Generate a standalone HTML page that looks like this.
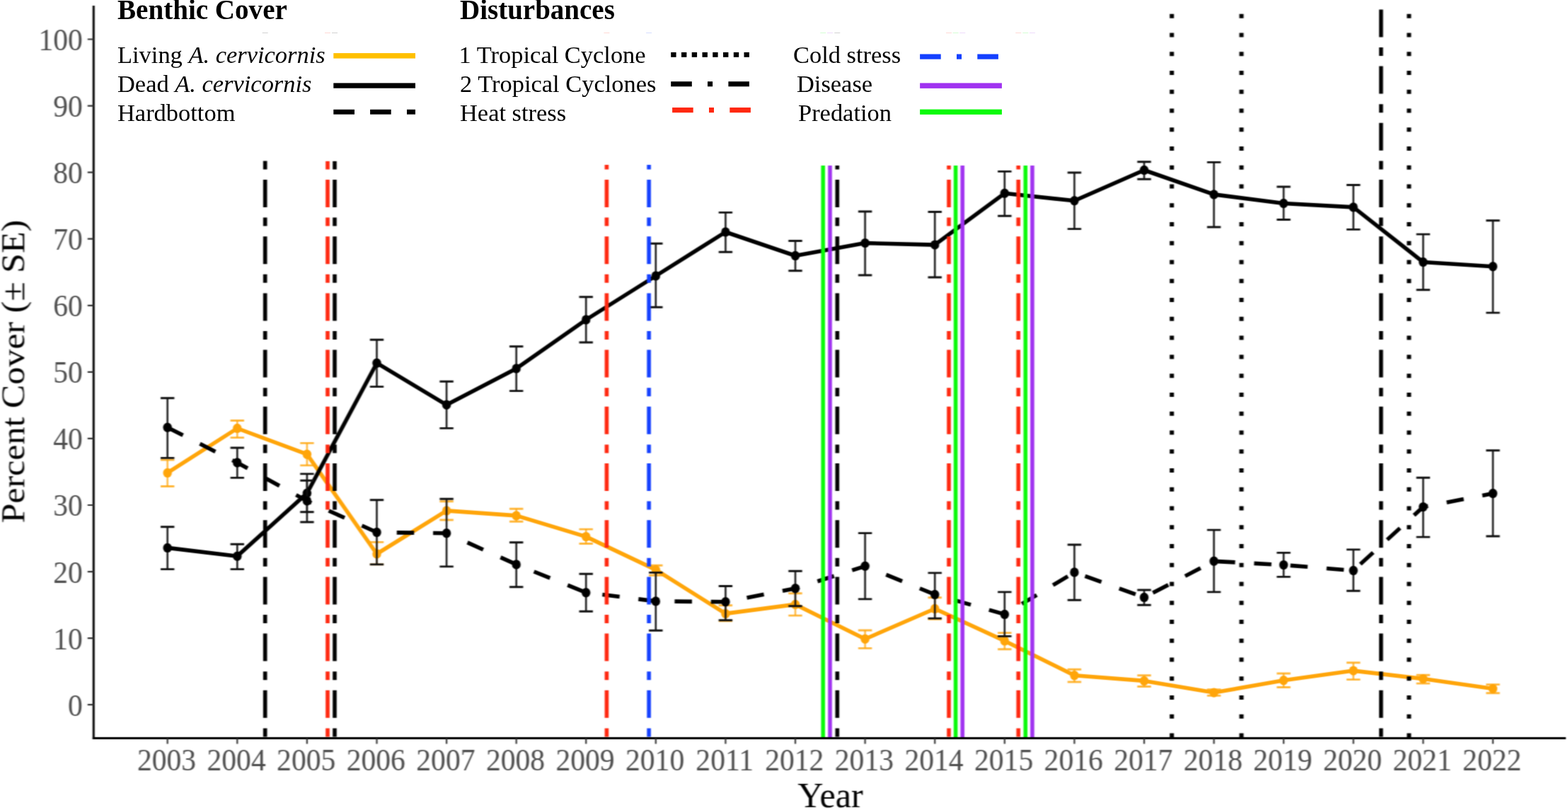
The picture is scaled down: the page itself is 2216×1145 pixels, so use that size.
<!DOCTYPE html>
<html><head><meta charset="utf-8"><title>Benthic cover and disturbances</title>
<style>
html,body{margin:0;padding:0;background:#fff;}
body{width:2216px;height:1145px;overflow:hidden;}
svg{display:block;font-family:"Liberation Serif","Times New Roman",serif;}
</style></head><body>
<svg width="2216" height="1145" viewBox="0 0 2216 1145">
<defs>
<clipPath id="c2278"><rect x="0" y="227.8" width="2216" height="900"/></clipPath>
<clipPath id="c2339"><rect x="0" y="233.9" width="2216" height="900"/></clipPath>
<filter id="blur" x="0" y="0" width="2216" height="1145" filterUnits="userSpaceOnUse" color-interpolation-filters="sRGB"><feConvolveMatrix order="5 1" kernelMatrix="0.0377 0.2399 0.4448 0.2399 0.0377" edgeMode="none" result="h"/><feConvolveMatrix in="h" order="1 5" kernelMatrix="0.0026 0.1655 0.6638 0.1655 0.0026" edgeMode="none"/></filter>
</defs>
<rect width="2216" height="1145" fill="#fff"/>
<g filter="url(#blur)">
<polyline points="236.7,668.4 335.3,605.5 433.9,642.2 532.5,783.0 631.1,721.9 729.7,728.9 828.2,758.6 926.8,805.4 1025.4,867.4 1124.0,854.4 1222.6,903.3 1321.2,860.5 1419.8,905.9 1518.4,954.7 1617.0,962.4 1715.6,979.1 1814.1,961.7 1912.7,948.1 2011.3,959.6 2109.9,973.6" fill="none" stroke="#FFA50A" stroke-width="5.6" stroke-linejoin="round"/>
<g fill="none" stroke="#FFA50A" stroke-opacity="0.8"><path d="M236.7 650.0V687.5M335.3 594.5V618.6M433.9 626.4V657.9M532.5 766.4V797.9M631.1 708.8V735.0M729.7 719.3V737.3M828.2 748.1V768.5M926.8 799.3V813.3M1025.4 855.7V877.9M1124.0 838.7V870.1M1222.6 891.0V916.4M1321.2 844.8V875.3M1419.8 894.6V917.8M1518.4 946.2V964.0M1617.0 954.7V970.5M1715.6 974.7V983.4M1814.1 952.0V971.5M1912.7 936.8V960.6M2011.3 954.2V966.1M2109.9 967.6V979.7" stroke-width="2.5"/><path d="M227.0 650.0H246.4M227.0 687.5H246.4M325.6 594.5H345.0M325.6 618.6H345.0M424.2 626.4H443.6M424.2 657.9H443.6M522.8 766.4H542.2M522.8 797.9H542.2M621.4 708.8H640.8M621.4 735.0H640.8M720.0 719.3H739.4M720.0 737.3H739.4M818.5 748.1H837.9M818.5 768.5H837.9M917.1 799.3H936.5M917.1 813.3H936.5M1015.7 855.7H1035.1M1015.7 877.9H1035.1M1114.3 838.7H1133.7M1114.3 870.1H1133.7M1212.9 891.0H1232.3M1212.9 916.4H1232.3M1311.5 844.8H1330.9M1311.5 875.3H1330.9M1410.1 894.6H1429.5M1410.1 917.8H1429.5M1508.7 946.2H1528.1M1508.7 964.0H1528.1M1607.3 954.7H1626.7M1607.3 970.5H1626.7M1705.9 974.7H1725.3M1705.9 983.4H1725.3M1804.4 952.0H1823.8M1804.4 971.5H1823.8M1903.0 936.8H1922.4M1903.0 960.6H1922.4M2001.6 954.2H2021.0M2001.6 966.1H2021.0M2100.2 967.6H2119.6M2100.2 979.7H2119.6" stroke-width="2.9"/></g>
<ellipse cx="236.7" cy="668.4" rx="6.2" ry="6.7" fill="#FFA50A"/>
<ellipse cx="335.3" cy="605.5" rx="6.2" ry="6.7" fill="#FFA50A"/>
<ellipse cx="433.9" cy="642.2" rx="6.2" ry="6.7" fill="#FFA50A"/>
<ellipse cx="532.5" cy="783.0" rx="6.2" ry="6.7" fill="#FFA50A"/>
<ellipse cx="631.1" cy="721.9" rx="6.2" ry="6.7" fill="#FFA50A"/>
<ellipse cx="729.7" cy="728.9" rx="6.2" ry="6.7" fill="#FFA50A"/>
<ellipse cx="828.2" cy="758.6" rx="6.2" ry="6.7" fill="#FFA50A"/>
<ellipse cx="926.8" cy="805.4" rx="6.2" ry="6.7" fill="#FFA50A"/>
<ellipse cx="1025.4" cy="867.4" rx="6.2" ry="6.7" fill="#FFA50A"/>
<ellipse cx="1124.0" cy="854.4" rx="6.2" ry="6.7" fill="#FFA50A"/>
<ellipse cx="1222.6" cy="903.3" rx="6.2" ry="6.7" fill="#FFA50A"/>
<ellipse cx="1321.2" cy="860.5" rx="6.2" ry="6.7" fill="#FFA50A"/>
<ellipse cx="1419.8" cy="905.9" rx="6.2" ry="6.7" fill="#FFA50A"/>
<ellipse cx="1518.4" cy="954.7" rx="6.2" ry="6.7" fill="#FFA50A"/>
<ellipse cx="1617.0" cy="962.4" rx="6.2" ry="6.7" fill="#FFA50A"/>
<ellipse cx="1715.6" cy="979.1" rx="6.2" ry="6.7" fill="#FFA50A"/>
<ellipse cx="1814.1" cy="961.7" rx="6.2" ry="6.7" fill="#FFA50A"/>
<ellipse cx="1912.7" cy="948.1" rx="6.2" ry="6.7" fill="#FFA50A"/>
<ellipse cx="2011.3" cy="959.6" rx="6.2" ry="6.7" fill="#FFA50A"/>
<ellipse cx="2109.9" cy="973.6" rx="6.2" ry="6.7" fill="#FFA50A"/>
<polyline points="236.7,774.4 335.3,786.2 433.9,697.2 532.5,513.2 631.1,572.3 729.7,520.9 828.2,452.0 926.8,390.0 1025.4,328.0 1124.0,361.5 1222.6,343.6 1321.2,346.1 1419.8,273.3 1518.4,283.8 1617.0,240.5 1715.6,274.9 1814.1,287.5 1912.7,292.9 2011.3,370.5 2109.9,376.8" fill="none" stroke="#000" stroke-width="5.6" stroke-linejoin="round"/>
<g fill="none" stroke="#111"><path d="M236.7 744.8V804.6M335.3 769.2V804.6M433.9 669.9V723.8M532.5 480.2V546.6M631.1 539.2V605.4M729.7 489.7V552.6M828.2 419.7V484.0M926.8 344.3V434.2M1025.4 300.4V356.3M1124.0 340.5V382.8M1222.6 299.0V389.0M1321.2 299.5V392.0M1419.8 242.4V305.2M1518.4 244.0V323.6M1617.0 228.8V253.3M1715.6 229.4V321.0M1814.1 264.0V310.5M1912.7 261.5V324.4M2011.3 331.1V409.7M2109.9 311.8V442.1" stroke-width="2.5"/><path d="M227.0 744.8H246.4M227.0 804.6H246.4M325.6 769.2H345.0M325.6 804.6H345.0M424.2 669.9H443.6M424.2 723.8H443.6M522.8 480.2H542.2M522.8 546.6H542.2M621.4 539.2H640.8M621.4 605.4H640.8M720.0 489.7H739.4M720.0 552.6H739.4M818.5 419.7H837.9M818.5 484.0H837.9M917.1 344.3H936.5M917.1 434.2H936.5M1015.7 300.4H1035.1M1015.7 356.3H1035.1M1114.3 340.5H1133.7M1114.3 382.8H1133.7M1212.9 299.0H1232.3M1212.9 389.0H1232.3M1311.5 299.5H1330.9M1311.5 392.0H1330.9M1410.1 242.4H1429.5M1410.1 305.2H1429.5M1508.7 244.0H1528.1M1508.7 323.6H1528.1M1607.3 228.8H1626.7M1607.3 253.3H1626.7M1705.9 229.4H1725.3M1705.9 321.0H1725.3M1804.4 264.0H1823.8M1804.4 310.5H1823.8M1903.0 261.5H1922.4M1903.0 324.4H1922.4M2001.6 331.1H2021.0M2001.6 409.7H2021.0M2100.2 311.8H2119.6M2100.2 442.1H2119.6" stroke-width="2.9"/></g>
<ellipse cx="236.7" cy="774.4" rx="6.2" ry="6.7" fill="#000"/>
<ellipse cx="335.3" cy="786.2" rx="6.2" ry="6.7" fill="#000"/>
<ellipse cx="433.9" cy="697.2" rx="6.2" ry="6.7" fill="#000"/>
<ellipse cx="532.5" cy="513.2" rx="6.2" ry="6.7" fill="#000"/>
<ellipse cx="631.1" cy="572.3" rx="6.2" ry="6.7" fill="#000"/>
<ellipse cx="729.7" cy="520.9" rx="6.2" ry="6.7" fill="#000"/>
<ellipse cx="828.2" cy="452.0" rx="6.2" ry="6.7" fill="#000"/>
<ellipse cx="926.8" cy="390.0" rx="6.2" ry="6.7" fill="#000"/>
<ellipse cx="1025.4" cy="328.0" rx="6.2" ry="6.7" fill="#000"/>
<ellipse cx="1124.0" cy="361.5" rx="6.2" ry="6.7" fill="#000"/>
<ellipse cx="1222.6" cy="343.6" rx="6.2" ry="6.7" fill="#000"/>
<ellipse cx="1321.2" cy="346.1" rx="6.2" ry="6.7" fill="#000"/>
<ellipse cx="1419.8" cy="273.3" rx="6.2" ry="6.7" fill="#000"/>
<ellipse cx="1518.4" cy="283.8" rx="6.2" ry="6.7" fill="#000"/>
<ellipse cx="1617.0" cy="240.5" rx="6.2" ry="6.7" fill="#000"/>
<ellipse cx="1715.6" cy="274.9" rx="6.2" ry="6.7" fill="#000"/>
<ellipse cx="1814.1" cy="287.5" rx="6.2" ry="6.7" fill="#000"/>
<ellipse cx="1912.7" cy="292.9" rx="6.2" ry="6.7" fill="#000"/>
<ellipse cx="2011.3" cy="370.5" rx="6.2" ry="6.7" fill="#000"/>
<ellipse cx="2109.9" cy="376.8" rx="6.2" ry="6.7" fill="#000"/>
<polyline points="236.7,604.2 335.3,654.0 433.9,708.1 532.5,752.5 631.1,753.7 729.7,797.9 828.2,837.7 926.8,849.9 1025.4,850.8 1124.0,831.7 1222.6,800.3 1321.2,840.4 1419.8,868.4 1518.4,809.0 1617.0,844.4 1715.6,793.3 1814.1,798.6 1912.7,806.5 2011.3,716.6 2109.9,697.5" fill="none" stroke="#000" stroke-width="5.6" stroke-linejoin="round" stroke-dasharray="24.5 26.83"/>
<g fill="none" stroke="#111"><path d="M236.7 562.8V647.4M335.3 633.0V675.4M433.9 679.3V738.0M532.5 706.7V797.9M631.1 705.3V800.9M729.7 766.8V829.8M828.2 811.3V864.2M926.8 809.4V891.3M1025.4 828.5V876.7M1124.0 807.2V856.7M1222.6 753.6V846.9M1321.2 809.9V874.1M1419.8 836.9V899.4M1518.4 770.0V848.3M1617.0 834.0V855.3M1715.6 749.1V836.9M1814.1 781.4V815.4M1912.7 776.9V835.3M2011.3 675.2V759.1M2109.9 636.7V758.0" stroke-width="2.5"/><path d="M227.0 562.8H246.4M227.0 647.4H246.4M325.6 633.0H345.0M325.6 675.4H345.0M424.2 679.3H443.6M424.2 738.0H443.6M522.8 706.7H542.2M522.8 797.9H542.2M621.4 705.3H640.8M621.4 800.9H640.8M720.0 766.8H739.4M720.0 829.8H739.4M818.5 811.3H837.9M818.5 864.2H837.9M917.1 809.4H936.5M917.1 891.3H936.5M1015.7 828.5H1035.1M1015.7 876.7H1035.1M1114.3 807.2H1133.7M1114.3 856.7H1133.7M1212.9 753.6H1232.3M1212.9 846.9H1232.3M1311.5 809.9H1330.9M1311.5 874.1H1330.9M1410.1 836.9H1429.5M1410.1 899.4H1429.5M1508.7 770.0H1528.1M1508.7 848.3H1528.1M1607.3 834.0H1626.7M1607.3 855.3H1626.7M1705.9 749.1H1725.3M1705.9 836.9H1725.3M1804.4 781.4H1823.8M1804.4 815.4H1823.8M1903.0 776.9H1922.4M1903.0 835.3H1922.4M2001.6 675.2H2021.0M2001.6 759.1H2021.0M2100.2 636.7H2119.6M2100.2 758.0H2119.6" stroke-width="2.9"/></g>
<ellipse cx="236.7" cy="604.2" rx="6.2" ry="6.7" fill="#000"/>
<ellipse cx="335.3" cy="654.0" rx="6.2" ry="6.7" fill="#000"/>
<ellipse cx="433.9" cy="708.1" rx="6.2" ry="6.7" fill="#000"/>
<ellipse cx="532.5" cy="752.5" rx="6.2" ry="6.7" fill="#000"/>
<ellipse cx="631.1" cy="753.7" rx="6.2" ry="6.7" fill="#000"/>
<ellipse cx="729.7" cy="797.9" rx="6.2" ry="6.7" fill="#000"/>
<ellipse cx="828.2" cy="837.7" rx="6.2" ry="6.7" fill="#000"/>
<ellipse cx="926.8" cy="849.9" rx="6.2" ry="6.7" fill="#000"/>
<ellipse cx="1025.4" cy="850.8" rx="6.2" ry="6.7" fill="#000"/>
<ellipse cx="1124.0" cy="831.7" rx="6.2" ry="6.7" fill="#000"/>
<ellipse cx="1222.6" cy="800.3" rx="6.2" ry="6.7" fill="#000"/>
<ellipse cx="1321.2" cy="840.4" rx="6.2" ry="6.7" fill="#000"/>
<ellipse cx="1419.8" cy="868.4" rx="6.2" ry="6.7" fill="#000"/>
<ellipse cx="1518.4" cy="809.0" rx="6.2" ry="6.7" fill="#000"/>
<ellipse cx="1617.0" cy="844.4" rx="6.2" ry="6.7" fill="#000"/>
<ellipse cx="1715.6" cy="793.3" rx="6.2" ry="6.7" fill="#000"/>
<ellipse cx="1814.1" cy="798.6" rx="6.2" ry="6.7" fill="#000"/>
<ellipse cx="1912.7" cy="806.5" rx="6.2" ry="6.7" fill="#000"/>
<ellipse cx="2011.3" cy="716.6" rx="6.2" ry="6.7" fill="#000"/>
<ellipse cx="2109.9" cy="697.5" rx="6.2" ry="6.7" fill="#000"/>
<g clip-path="url(#c2278)"><line x1="374.7" y1="13.4" x2="374.7" y2="1043.4" stroke="#000" stroke-width="5.6" stroke-dasharray="39 14.6 12 14.6"/></g>
<g clip-path="url(#c2278)"><line x1="463.0" y1="13.4" x2="463.0" y2="1043.4" stroke="#FF2810" stroke-width="5.6" stroke-dasharray="39 14.6 12 14.6"/></g>
<g clip-path="url(#c2278)"><line x1="473.0" y1="13.4" x2="473.0" y2="1043.4" stroke="#000" stroke-width="5.6" stroke-dasharray="39 14.6 12 14.6"/></g>
<g clip-path="url(#c2339)"><line x1="857.4" y1="13.4" x2="857.4" y2="1043.4" stroke="#FF2810" stroke-width="5.6" stroke-dasharray="39 14.6 12 14.6"/></g>
<g clip-path="url(#c2339)"><line x1="917.1" y1="13.4" x2="917.1" y2="1043.4" stroke="#1440FF" stroke-width="5.6" stroke-dasharray="39 14.6 12 14.6"/></g>
<g clip-path="url(#c2339)"><line x1="1163.2" y1="233.9" x2="1163.2" y2="1043.4" stroke="#0AFA0A" stroke-width="5.6"/></g>
<g clip-path="url(#c2339)"><line x1="1173.0" y1="233.9" x2="1173.0" y2="1043.4" stroke="#A032F0" stroke-width="5.6"/></g>
<g clip-path="url(#c2339)"><line x1="1183.3" y1="13.4" x2="1183.3" y2="1043.4" stroke="#000" stroke-width="5.6" stroke-dasharray="39 14.6 12 14.6"/></g>
<g clip-path="url(#c2339)"><line x1="1341.0" y1="13.4" x2="1341.0" y2="1043.4" stroke="#FF2810" stroke-width="5.6" stroke-dasharray="39 14.6 12 14.6"/></g>
<g clip-path="url(#c2339)"><line x1="1350.6" y1="233.9" x2="1350.6" y2="1043.4" stroke="#0AFA0A" stroke-width="5.6"/></g>
<g clip-path="url(#c2339)"><line x1="1360.2" y1="233.9" x2="1360.2" y2="1043.4" stroke="#A032F0" stroke-width="5.6"/></g>
<g clip-path="url(#c2339)"><line x1="1439.2" y1="13.4" x2="1439.2" y2="1043.4" stroke="#FF2810" stroke-width="5.6" stroke-dasharray="39 14.6 12 14.6"/></g>
<g clip-path="url(#c2339)"><line x1="1449.3" y1="233.9" x2="1449.3" y2="1043.4" stroke="#0AFA0A" stroke-width="5.6"/></g>
<g clip-path="url(#c2339)"><line x1="1458.9" y1="233.9" x2="1458.9" y2="1043.4" stroke="#A032F0" stroke-width="5.6"/></g>
<line x1="1656.1" y1="19.7" x2="1656.1" y2="1043.4" stroke="#000" stroke-width="6" stroke-dasharray="6 20.76"/>
<line x1="1754.5" y1="19.7" x2="1754.5" y2="1043.4" stroke="#000" stroke-width="6" stroke-dasharray="6 20.76"/>
<line x1="1951.8" y1="13.4" x2="1951.8" y2="1043.4" stroke="#000" stroke-width="5.6" stroke-dasharray="39 14.6 12 14.6"/>
<line x1="1991.3" y1="19.7" x2="1991.3" y2="1043.4" stroke="#000" stroke-width="6" stroke-dasharray="6 20.76"/>
<line x1="132.3" y1="8.0" x2="132.3" y2="1044.9" stroke="#000" stroke-width="3"/>
<line x1="130.8" y1="1043.4" x2="2213" y2="1043.4" stroke="#000" stroke-width="3"/>
<path d="M123.8 996.2H132.3M123.8 902.1H132.3M123.8 808.1H132.3M123.8 714.0H132.3M123.8 619.9H132.3M123.8 525.9H132.3M123.8 431.8H132.3M123.8 337.7H132.3M123.8 243.6H132.3M123.8 149.6H132.3M123.8 55.5H132.3" stroke="#333" stroke-width="2.2"/>
<path d="M236.7 1043.4V1051.5M335.3 1043.4V1051.5M433.9 1043.4V1051.5M532.5 1043.4V1051.5M631.1 1043.4V1051.5M729.7 1043.4V1051.5M828.2 1043.4V1051.5M926.8 1043.4V1051.5M1025.4 1043.4V1051.5M1124.0 1043.4V1051.5M1222.6 1043.4V1051.5M1321.2 1043.4V1051.5M1419.8 1043.4V1051.5M1518.4 1043.4V1051.5M1617.0 1043.4V1051.5M1715.6 1043.4V1051.5M1814.1 1043.4V1051.5M1912.7 1043.4V1051.5M2011.3 1043.4V1051.5M2109.9 1043.4V1051.5" stroke="#333" stroke-width="2.2"/>
<text transform="translate(116.8,1011.6) scale(1,1.07)" font-size="41.6" text-anchor="end" fill="#4D4D4D">0</text>
<text transform="translate(116.8,917.5) scale(1,1.07)" font-size="41.6" text-anchor="end" fill="#4D4D4D">10</text>
<text transform="translate(116.8,823.5) scale(1,1.07)" font-size="41.6" text-anchor="end" fill="#4D4D4D">20</text>
<text transform="translate(116.8,729.4) scale(1,1.07)" font-size="41.6" text-anchor="end" fill="#4D4D4D">30</text>
<text transform="translate(116.8,635.3) scale(1,1.07)" font-size="41.6" text-anchor="end" fill="#4D4D4D">40</text>
<text transform="translate(116.8,541.2) scale(1,1.07)" font-size="41.6" text-anchor="end" fill="#4D4D4D">50</text>
<text transform="translate(116.8,447.2) scale(1,1.07)" font-size="41.6" text-anchor="end" fill="#4D4D4D">60</text>
<text transform="translate(116.8,353.1) scale(1,1.07)" font-size="41.6" text-anchor="end" fill="#4D4D4D">70</text>
<text transform="translate(116.8,259.0) scale(1,1.07)" font-size="41.6" text-anchor="end" fill="#4D4D4D">80</text>
<text transform="translate(116.8,165.0) scale(1,1.07)" font-size="41.6" text-anchor="end" fill="#4D4D4D">90</text>
<text transform="translate(116.8,70.9) scale(1,1.07)" font-size="41.6" text-anchor="end" fill="#4D4D4D">100</text>
<text transform="translate(235.5,1089.3) scale(1,1.07)" font-size="41.6" text-anchor="middle" fill="#4D4D4D">2003</text>
<text transform="translate(334.1,1089.3) scale(1,1.07)" font-size="41.6" text-anchor="middle" fill="#4D4D4D">2004</text>
<text transform="translate(432.7,1089.3) scale(1,1.07)" font-size="41.6" text-anchor="middle" fill="#4D4D4D">2005</text>
<text transform="translate(531.3,1089.3) scale(1,1.07)" font-size="41.6" text-anchor="middle" fill="#4D4D4D">2006</text>
<text transform="translate(629.9,1089.3) scale(1,1.07)" font-size="41.6" text-anchor="middle" fill="#4D4D4D">2007</text>
<text transform="translate(728.5,1089.3) scale(1,1.07)" font-size="41.6" text-anchor="middle" fill="#4D4D4D">2008</text>
<text transform="translate(827.0,1089.3) scale(1,1.07)" font-size="41.6" text-anchor="middle" fill="#4D4D4D">2009</text>
<text transform="translate(925.6,1089.3) scale(1,1.07)" font-size="41.6" text-anchor="middle" fill="#4D4D4D">2010</text>
<text transform="translate(1024.2,1089.3) scale(1,1.07)" font-size="41.6" text-anchor="middle" fill="#4D4D4D">2011</text>
<text transform="translate(1122.8,1089.3) scale(1,1.07)" font-size="41.6" text-anchor="middle" fill="#4D4D4D">2012</text>
<text transform="translate(1221.4,1089.3) scale(1,1.07)" font-size="41.6" text-anchor="middle" fill="#4D4D4D">2013</text>
<text transform="translate(1320.0,1089.3) scale(1,1.07)" font-size="41.6" text-anchor="middle" fill="#4D4D4D">2014</text>
<text transform="translate(1418.6,1089.3) scale(1,1.07)" font-size="41.6" text-anchor="middle" fill="#4D4D4D">2015</text>
<text transform="translate(1517.2,1089.3) scale(1,1.07)" font-size="41.6" text-anchor="middle" fill="#4D4D4D">2016</text>
<text transform="translate(1615.8,1089.3) scale(1,1.07)" font-size="41.6" text-anchor="middle" fill="#4D4D4D">2017</text>
<text transform="translate(1714.4,1089.3) scale(1,1.07)" font-size="41.6" text-anchor="middle" fill="#4D4D4D">2018</text>
<text transform="translate(1812.9,1089.3) scale(1,1.07)" font-size="41.6" text-anchor="middle" fill="#4D4D4D">2019</text>
<text transform="translate(1911.5,1089.3) scale(1,1.07)" font-size="41.6" text-anchor="middle" fill="#4D4D4D">2020</text>
<text transform="translate(2010.1,1089.3) scale(1,1.07)" font-size="41.6" text-anchor="middle" fill="#4D4D4D">2021</text>
<text transform="translate(2108.7,1089.3) scale(1,1.07)" font-size="41.6" text-anchor="middle" fill="#4D4D4D">2022</text>
<text x="1173.4" y="1140.7" font-size="50.2" text-anchor="middle" font-weight="normal" fill="#000">Year</text>
<text transform="translate(34.6,525.2) rotate(-90) scale(1,0.94)" font-size="50" text-anchor="middle" fill="#000">Percent Cover (± SE)</text>
</g>
<rect x="370.7" y="46" width="8" height="1" fill="#000" fill-opacity="0.18"/><rect x="459.0" y="46" width="8" height="1" fill="#FF2810" fill-opacity="0.18"/><rect x="469.0" y="46" width="8" height="1" fill="#000" fill-opacity="0.18"/><rect x="853.4" y="46" width="8" height="1" fill="#FF2810" fill-opacity="0.18"/><rect x="913.1" y="46" width="8" height="1" fill="#1440FF" fill-opacity="0.18"/><rect x="1159.2" y="46" width="8" height="1" fill="#0AFA0A" fill-opacity="0.18"/><rect x="1169.0" y="46" width="8" height="1" fill="#A032F0" fill-opacity="0.18"/><rect x="1179.3" y="46" width="8" height="1" fill="#000" fill-opacity="0.18"/><rect x="1337.0" y="46" width="8" height="1" fill="#FF2810" fill-opacity="0.18"/><rect x="1346.6" y="46" width="8" height="1" fill="#0AFA0A" fill-opacity="0.18"/><rect x="1356.2" y="46" width="8" height="1" fill="#A032F0" fill-opacity="0.18"/><rect x="1435.2" y="46" width="8" height="1" fill="#FF2810" fill-opacity="0.18"/><rect x="1445.3" y="46" width="8" height="1" fill="#0AFA0A" fill-opacity="0.18"/><rect x="1454.9" y="46" width="8" height="1" fill="#A032F0" fill-opacity="0.18"/>
<text x="166" y="26.75" font-size="39.1" text-anchor="start" font-weight="bold" fill="#000">Benthic Cover</text>
<text x="650" y="26.75" font-size="39.0" text-anchor="start" font-weight="bold" fill="#000">Disturbances</text>
<text x="166" y="88.8" font-size="34.45">Living <tspan font-style="italic">A. cervicornis</tspan></text>
<text x="166" y="130.1" font-size="34.45">Dead <tspan font-style="italic">A. cervicornis</tspan></text>
<text x="166" y="171.3" font-size="34.45">Hardbottom</text>
<text x="648.6" y="88.8" font-size="34.45" text-anchor="start" font-weight="normal" fill="#000">1 Tropical Cyclone</text>
<text x="650" y="130.1" font-size="34.45" text-anchor="start" font-weight="normal" fill="#000">2 Tropical Cyclones</text>
<text x="650" y="171.3" font-size="34.45" text-anchor="start" font-weight="normal" fill="#000">Heat stress</text>
<text x="1121" y="88.8" font-size="34.45" text-anchor="start" font-weight="normal" fill="#000">Cold stress</text>
<text x="1126" y="130.1" font-size="34.45" text-anchor="start" font-weight="normal" fill="#000">Disease</text>
<text x="1128" y="171.3" font-size="34.45" text-anchor="start" font-weight="normal" fill="#000">Predation</text>
<rect x="471.3" y="75.1" width="115.7" height="7.5" fill="#FFC000"/>
<rect x="471.3" y="117.4" width="115.7" height="7.3" fill="#000"/>
<rect x="471.3" y="154.8" width="29.7" height="6.9" fill="#000"/>
<rect x="523.1" y="154.8" width="29.6" height="6.9" fill="#000"/>
<rect x="575" y="154.8" width="12.0" height="6.9" fill="#000"/>
<rect x="948.2" y="73.9" width="7.4" height="6.9" fill="#000"/>
<rect x="963.0" y="73.9" width="7.4" height="6.9" fill="#000"/>
<rect x="977.7" y="73.9" width="7.4" height="6.9" fill="#000"/>
<rect x="992.5" y="73.9" width="7.4" height="6.9" fill="#000"/>
<rect x="1007.2" y="73.9" width="7.4" height="6.9" fill="#000"/>
<rect x="1022.0" y="73.9" width="7.4" height="6.9" fill="#000"/>
<rect x="1036.8" y="73.9" width="7.4" height="6.9" fill="#000"/>
<rect x="1051.5" y="73.9" width="7.4" height="6.9" fill="#000"/>
<rect x="948.2" y="115.2" width="29.6" height="7.1" fill="#000"/>
<rect x="1000" y="115.2" width="7.1" height="7.1" fill="#000"/>
<rect x="1029.4" y="115.2" width="29.5" height="7.1" fill="#000"/>
<rect x="950.1" y="152" width="29.6" height="7.2" fill="#FF2810"/>
<rect x="1002" y="152" width="7.0" height="7.2" fill="#FF2810"/>
<rect x="1031.3" y="152" width="29.6" height="7.2" fill="#FF2810"/>
<rect x="1300.1" y="76.5" width="29.6" height="7.2" fill="#1440FF"/>
<rect x="1352" y="76.5" width="7.0" height="7.2" fill="#1440FF"/>
<rect x="1381.3" y="76.5" width="29.6" height="7.2" fill="#1440FF"/>
<rect x="1300.1" y="117.4" width="115.8" height="7.5" fill="#A032F0"/>
<rect x="1300.1" y="154.6" width="115.8" height="7.3" fill="#0AFA0A"/>
</svg>
</body></html>
